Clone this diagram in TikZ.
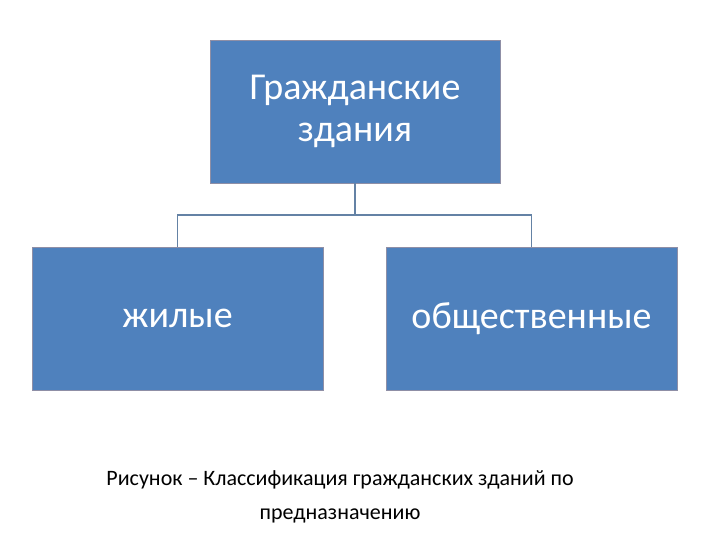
\documentclass[tikz,border=0pt]{standalone}
\usepackage{fontspec}
\setmainfont{Carlito}
\begin{document}
\begin{tikzpicture}[x=1pt,y=-1pt,
  boxst/.style={draw=white!70!blue!30!gray,line width=0.8pt,fill={rgb,255:red,79;green,129;blue,189},text=white,font=\fontsize{38}{42}\selectfont,align=center,inner sep=0pt},
  conn/.style={draw={rgb,255:red,100;green,130;blue,165},line width=1.2pt}]
\useasboundingbox (0,0) rectangle (720,540);
\node[boxst,minimum width=290pt,minimum height=143pt] (top) at (355,111.5) {Гражданские\\здания};
\node[boxst,minimum width=291pt,minimum height=143pt] (left) at (177.5,318.5) {жилые};
\node[boxst,minimum width=291pt,minimum height=143pt] (right) at (531.5,318.5) {общественные};
\coordinate (m) at (355,215);
\draw[conn] (top.south) -- (m);
\draw[conn] (left.north) |- (m) -| (right.north);
\node[font=\fontsize{22}{34}\selectfont,align=center] (cap) at (340,497) {Рисунок – Классификация гражданских зданий по\\предназначению};
\end{tikzpicture}
\end{document}
